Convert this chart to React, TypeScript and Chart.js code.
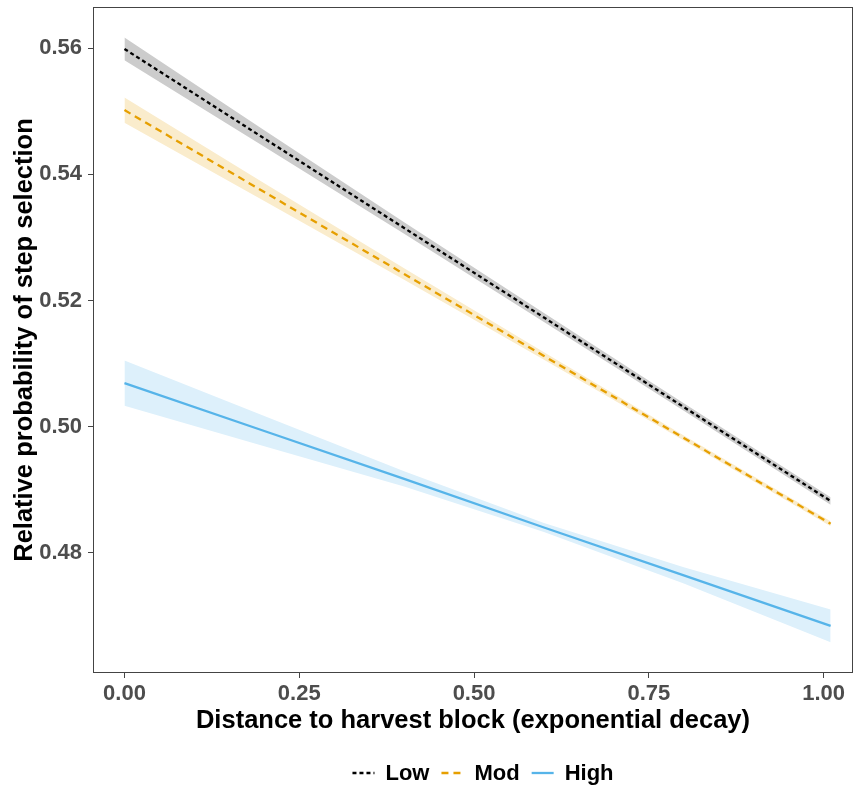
import React, { useEffect, useRef } from 'react';
import { Chart, registerables } from 'chart.js';

Chart.register(...registerables);

// ---- Data ----
const xValues = [0, 0.2, 0.4, 0.6, 0.8, 1.01];

const lowFit = [0.5599, 0.5457, 0.5315, 0.5173, 0.5031, 0.4882];
const lowUpper = [0.5617, 0.547, 0.5324, 0.518, 0.5037, 0.4888];
const lowLower = [0.5581, 0.5444, 0.5306, 0.5166, 0.5025, 0.4876];

const modFit = [0.5502, 0.5372, 0.5242, 0.5112, 0.4982, 0.4846];
const modUpper = [0.5522, 0.5386, 0.5251, 0.5118, 0.4986, 0.485];
const modLower = [0.5482, 0.5358, 0.5233, 0.5106, 0.4978, 0.4842];

const highFit = [0.5069, 0.4993, 0.4917, 0.484, 0.4764, 0.4684];
const highUpper = [0.5105, 0.5017, 0.4929, 0.4847, 0.4777, 0.471];
const highLower = [0.5033, 0.4969, 0.4905, 0.4833, 0.4751, 0.4658];

const seriesNames = ['Low', 'Mod', 'High'];
const xTicks = [0, 0.25, 0.5, 0.75, 1.0];
const yTicks = [0.48, 0.5, 0.52, 0.54, 0.56];

const xTitle = 'Distance to harvest block (exponential decay)';
const yTitle = 'Relative probability of step selection';

// ---- Styles ----
const FONT = '"Liberation Sans", Arial, sans-serif';
const lineColors = ['#000000', '#E69F00', '#56B4E9'];
const bandColors = ['rgb(204,204,204)', 'rgb(250,236,204)', 'rgb(221,240,251)'];
const dashes: number[][] = [[4, 3], [7, 5], []];
const LINE_W = 2.3;

const toPts = (ys: number[]) => ys.map((y, i) => ({ x: xValues[i], y }));

export default function App() {
  const ref = useRef<HTMLCanvasElement>(null);

  useEffect(() => {
    document.body.style.margin = '0';
    const canvas = ref.current;
    if (!canvas) return;

    const fits = [lowFit, modFit, highFit];
    const uppers = [lowUpper, modUpper, highUpper];
    const lowers = [lowLower, modLower, highLower];

    const datasets: any[] = [];
    fits.forEach((f, i) => {
      datasets.push({
        label: seriesNames[i],
        data: toPts(f),
        borderColor: lineColors[i],
        borderWidth: LINE_W,
        borderDash: dashes[i],
        pointRadius: 0,
        fill: false,
        order: 0,
      });
    });
    uppers.forEach((u, i) => {
      const upIndex = datasets.length;
      datasets.push({
        label: seriesNames[i] + ' upper',
        data: toPts(u),
        borderWidth: 0,
        borderColor: 'rgba(0,0,0,0)',
        backgroundColor: bandColors[i],
        pointRadius: 0,
        fill: upIndex + 1,
        order: 1,
      });
      datasets.push({
        label: seriesNames[i] + ' lower',
        data: toPts(lowers[i]),
        borderWidth: 0,
        borderColor: 'rgba(0,0,0,0)',
        pointRadius: 0,
        fill: false,
        order: 1,
      });
    });

    const panelBorder = {
      id: 'panelBorder',
      afterDraw(chart: any) {
        const { ctx, chartArea } = chart;
        ctx.save();
        ctx.strokeStyle = '#444';
        ctx.lineWidth = 1;
        ctx.strokeRect(
          chartArea.left + 0.5,
          chartArea.top + 0.5,
          chartArea.right - chartArea.left - 1,
          chartArea.bottom - chartArea.top - 1
        );
        ctx.restore();
      },
    };

    const bottomLegend = {
      id: 'bottomLegend',
      afterDraw(chart: any) {
        const { ctx, chartArea } = chart;
        ctx.save();
        ctx.font = `bold 22px ${FONT}`;
        ctx.textBaseline = 'middle';
        ctx.textAlign = 'left';
        const keyW = 22;
        const keyGap = 11;
        const itemGap = 12;
        const widths = seriesNames.map((s) => ctx.measureText(s).width);
        const total =
          widths.reduce((a: number, w: number) => a + keyW + keyGap + w, 0) +
          itemGap * (seriesNames.length - 1);
        let x = (chartArea.left + chartArea.right) / 2 + 10 - total / 2;
        const y = 773;
        seriesNames.forEach((s, i) => {
          ctx.beginPath();
          ctx.setLineDash(dashes[i]);
          ctx.strokeStyle = lineColors[i];
          ctx.lineWidth = LINE_W;
          ctx.moveTo(x, y);
          ctx.lineTo(x + keyW, y);
          ctx.stroke();
          ctx.setLineDash([]);
          x += keyW + keyGap;
          ctx.fillStyle = '#000';
          ctx.fillText(s, x, y + 1);
          x += widths[i] + itemGap;
        });
        ctx.restore();
      },
    };

    const tickFont = { family: FONT, size: 22, weight: 'bold' as const };
    const titleFont = { family: FONT, size: 25.5, weight: 'bold' as const };

    const chart = new Chart(canvas, {
      type: 'line',
      data: { datasets },
      options: {
        animation: false,
        responsive: true,
        maintainAspectRatio: false,
        layout: { padding: { top: 7, right: 3, bottom: 0, left: 0 } },
        plugins: {
          legend: { display: false },
          tooltip: { enabled: false },
        },
        elements: { line: { tension: 0 } },
        scales: {
          x: {
            type: 'linear',
            min: -0.045,
            max: 1.042,
            afterBuildTicks: (s: any) => {
              s.ticks = xTicks.map((v) => ({ value: v }));
            },
            afterFit: (s: any) => {
              s.height = 118;
              s.paddingLeft = 0;
              s.paddingRight = 0;
              s.paddingTop = 0;
              s.paddingBottom = 0;
            },
            ticks: {
              callback: (v: any) => Number(v).toFixed(2),
              font: tickFont,
              color: '#4d4d4d',
              padding: 3,
              maxRotation: 0,
              autoSkip: false,
            },
            grid: {
              display: true,
              drawOnChartArea: false,
              drawTicks: true,
              tickLength: 5,
              color: '#444',
            },
            border: { display: false },
            title: {
              display: true,
              text: xTitle,
              font: titleFont,
              color: '#000',
              padding: { top: 4, bottom: 55 },
            },
          },
          y: {
            type: 'linear',
            min: 0.46092,
            max: 0.56655,
            afterBuildTicks: (s: any) => {
              s.ticks = yTicks.map((v) => ({ value: v }));
            },
            afterFit: (s: any) => {
              s.width = 93;
              s.paddingTop = 0;
              s.paddingBottom = 0;
              s.paddingLeft = 0;
              s.paddingRight = 0;
            },
            ticks: {
              callback: (v: any) => Number(v).toFixed(2),
              font: tickFont,
              color: '#4d4d4d',
              padding: 6,
              autoSkip: false,
            },
            grid: {
              display: true,
              drawOnChartArea: false,
              drawTicks: true,
              tickLength: 5,
              color: '#444',
            },
            border: { display: false },
            title: {
              display: true,
              text: yTitle,
              font: titleFont,
              color: '#000',
              padding: { top: 10, bottom: 0 },
            },
          },
        },
      },
      plugins: [panelBorder, bottomLegend],
    });

    return () => chart.destroy();
  }, []);

  return (
    <div style={{ width: 856, height: 791, position: 'relative' }}>
      <canvas ref={ref} />
    </div>
  );
}
